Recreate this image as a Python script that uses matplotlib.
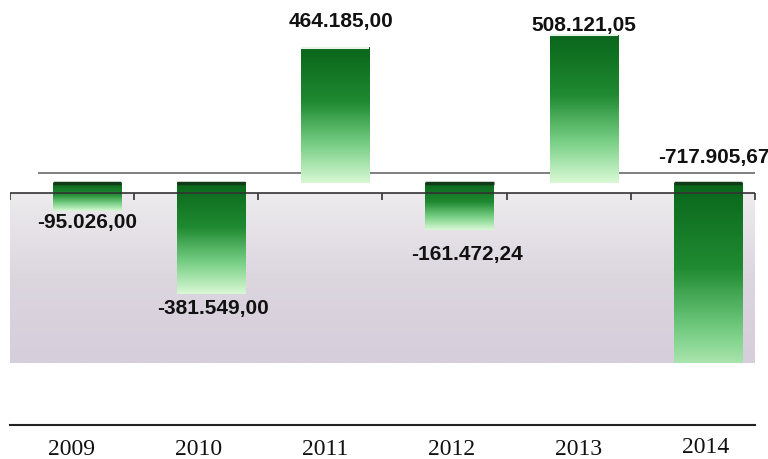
import matplotlib.pyplot as plt
import numpy as np
from matplotlib.colors import LinearSegmentedColormap
from matplotlib.markers import TICKDOWN

years = ["2009", "2010", "2011", "2012", "2013", "2014"]
values = [-95026.00, -381549.00, 464185.00, -161472.24, 508121.05, -717905.67]

# label nudges in pixels (dx, dy) relative to the end of each bar
label_nudge = [(0, -12), (2, -14), (6, 26), (8, -25), (0, 10), (6, 26)]

PX = 3436.0  # value units per pixel

def fmt(v):
    s = f"{v:,.2f}"
    return s.replace(",", "#").replace(".", ",").replace("#", ".")

fig = plt.figure(figsize=(7.68, 4.59), dpi=100)
ax = fig.add_axes([10/768, 96/459, 745/768, 363/459])
ax.set_xlim(-0.5, 5.5)
ylo, yhi = -180*PX, 183*PX
ax.set_ylim(ylo, yhi)
ax.axis('off')

# greyish lavender floor below the front edge
bg = LinearSegmentedColormap.from_list("bg", ["#edebee", "#dcd6df", "#d6cedb"])
grad = np.linspace(0, 1, 128).reshape(-1, 1)
ax.imshow(grad, cmap=bg, extent=(-0.5, 5.5, ylo, -10*PX), aspect='auto',
          origin='upper', zorder=0)

# back line behind the bars
ax.hlines(10*PX, -0.5 + 28/124, 5.5, color='#6a6a6a', lw=1.2, zorder=1)

green = LinearSegmentedColormap.from_list(
    "green", [(0, "#0a661b"), (0.4, "#1f8a31"), (0.72, "#78cf85"), (1, "#d8f8d4")])

shift, width = 0.12, 0.55
for i, v in enumerate(values):
    x0 = i + shift - width/2
    x1 = x0 + width
    lo, hi = min(0, v), max(0, v)
    ax.imshow(grad, cmap=green, extent=(x0, x1, lo, hi), aspect='auto',
              origin='upper', zorder=2)
    if v < 0:
        ax.hlines(0, x0, x1, color='#123a16', lw=2.5, zorder=2.5)
    else:
        ax.hlines(v, x0, x1, color='#e6f4e6', lw=1.5, zorder=2.5)

    # bars running past the floor get their label above the baseline
    anchor = v if v > ylo else 0
    dx, dy = label_nudge[i]
    ax.annotate(fmt(v), (i + shift, anchor), xytext=(dx*0.72, dy*0.72),
                textcoords='offset points', ha='center', va='center',
                fontsize=15, fontweight='bold', family='Liberation Sans',
                color='#111111', annotation_clip=False, zorder=5)

# front edge with category ticks
bounds = np.arange(-0.5, 6, 1.0)
ax.hlines(-10*PX, -0.5, 5.5, color='#333333', lw=1.2, zorder=3)
ax.plot(bounds, [-10*PX]*len(bounds), ls='none', marker=TICKDOWN, ms=5,
        mew=1.2, color='#333333', zorder=3)

# year row beneath
ax2 = fig.add_axes([10/768, 0, 745/768, 34/459])
ax2.set_xlim(-0.489, 5.391)
ax2.set_ylim(0, 1)
for s in ["left", "right", "bottom"]:
    ax2.spines[s].set_visible(False)
ax2.spines["top"].set_linewidth(1.5)
ax2.spines["top"].set_color('#222222')
ax2.set_xticks([])
ax2.set_yticks([])
ax2.patch.set_alpha(0)
for i, y in enumerate(years):
    ax2.text(i, 0.27 + (0.08 if i == 5 else 0), y, ha='center', va='center',
             fontsize=17, family='Liberation Serif', color='#111111')

fig.savefig("out.png", dpi=100)
